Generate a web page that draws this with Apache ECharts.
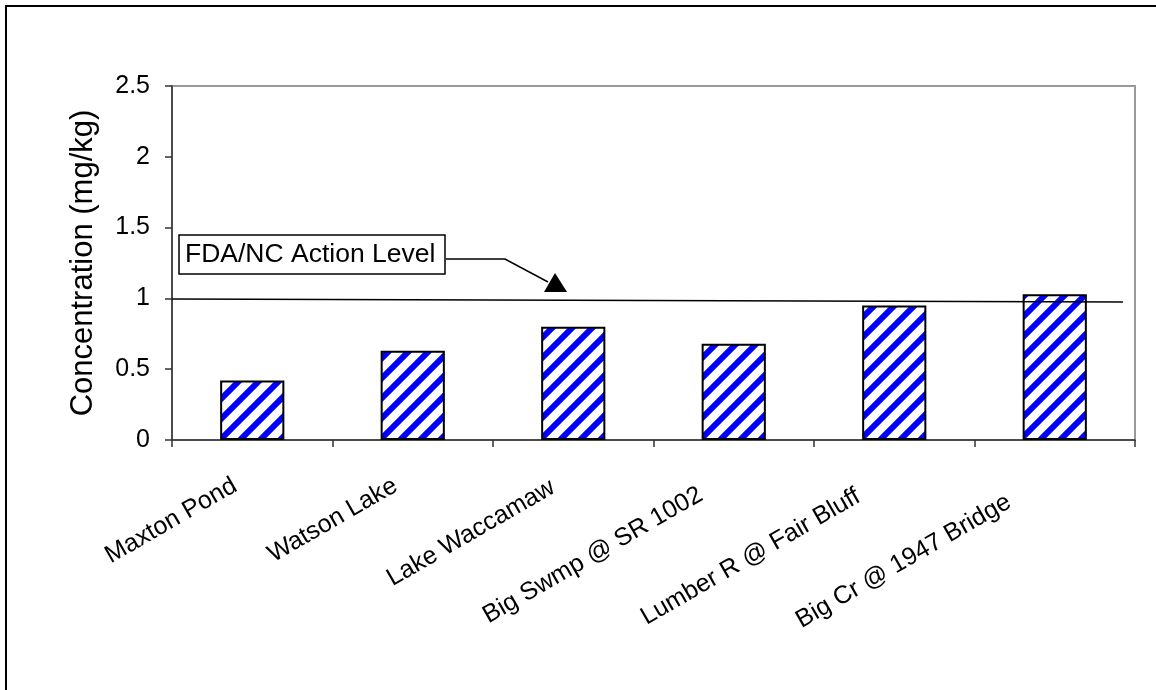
<!DOCTYPE html>
<html>
<head>
<meta charset="utf-8">
<script src="https://cdn.jsdelivr.net/npm/echarts@6/dist/echarts.min.js"></script>
<style>
  html, body { margin: 0; padding: 0; background: #fff; }
  #chart { width: 1156px; height: 690px; }
</style>
</head>
<body>
<div id="chart"></div>
<script>
// Mercury in fish tissue by sampling station
const categories = ['Maxton Pond', 'Watson Lake', 'Lake Waccamaw', 'Big Swmp @ SR 1002', 'Lumber R @ Fair Bluff', 'Big Cr @ 1947 Bridge'];
const concentrations = [0.42, 0.63, 0.80, 0.68, 0.95, 1.03];
const yTicks = [0, 0.5, 1, 1.5, 2, 2.5];
// FDA/NC action level reference line (x in category units, y in mg/kg)
const actionLevelLine = [[0, 0.995], [5.925, 0.975]];
const actionLevelLabel = 'FDA/NC Action Level';
const yAxisTitle = 'Concentration (mg/kg)';

const FONT = 'Liberation Sans, Arial, sans-serif';

// Horizontal nudge of each rotated category label (px, leftwards)
const labelNudge = [23, 23, 27, 44, 48, 61];

// Blue diagonal hatch fill for the bars
function hatchPattern() {
  const size = 20;
  const c = document.createElement('canvas');
  c.width = size; c.height = size;
  const g = c.getContext('2d');
  g.fillStyle = '#ffffff';
  g.fillRect(0, 0, size, size);
  g.strokeStyle = '#0000ff';
  g.lineWidth = 6;
  g.lineCap = 'square';
  [[-6, 6, 6, -6], [0, 20, 20, 0], [14, 26, 26, 14]].forEach(([x1, y1, x2, y2]) => {
    g.beginPath(); g.moveTo(x1, y1); g.lineTo(x2, y2); g.stroke();
  });
  return c;
}

const chart = echarts.init(document.getElementById('chart'), null, { renderer: 'canvas' });

const xData = categories.map((name, i) => ({
  value: name,
  textStyle: { padding: [0, labelNudge[i] / 1.155, labelNudge[i], 0] }
}));

chart.setOption({
  backgroundColor: '#ffffff',
  animation: false,
  grid: {
    left: 172, right: 21, top: 86, bottom: 250,
    show: true, borderColor: '#999999', borderWidth: 2, backgroundColor: 'transparent'
  },
  xAxis: [{
    type: 'category',
    data: xData,
    boundaryGap: true,
    axisLine: { lineStyle: { color: '#333333', width: 1.5 } },
    axisTick: { show: true, length: 7, inside: false, alignWithLabel: false, lineStyle: { color: '#333333', width: 1.5 } },
    axisLabel: {
      rotate: 30, margin: 34, interval: 0,
      color: '#000', fontFamily: FONT, fontSize: 25
    },
    splitLine: { show: false }
  }, {
    type: 'value', min: 0, max: categories.length, show: false
  }],
  yAxis: {
    type: 'value',
    min: yTicks[0], max: yTicks[yTicks.length - 1], interval: 0.5,
    name: yAxisTitle,
    nameLocation: 'middle', nameRotate: 90, nameGap: 73,
    nameTextStyle: { color: '#000', fontFamily: FONT, fontSize: 31 },
    axisLine: { show: true, lineStyle: { color: '#333333', width: 1.5 } },
    axisTick: { show: true, length: 7, lineStyle: { color: '#333333', width: 1.5 } },
    axisLabel: {
      margin: 22, color: '#000', fontFamily: FONT, fontSize: 25,
      formatter: v => String(v)
    },
    splitLine: { show: false }
  },
  series: [{
    type: 'bar',
    xAxisIndex: 0,
    data: concentrations,
    barWidth: '40%',
    itemStyle: {
      color: { image: hatchPattern(), repeat: 'repeat' },
      borderColor: '#000', borderWidth: 2
    },
    z: 2
  }, {
    type: 'line',
    xAxisIndex: 1,
    data: actionLevelLine,
    symbol: 'none',
    lineStyle: { color: '#000', width: 1.5 },
    z: 3
  }],
  graphic: [
    // outer chart frame
    { type: 'rect', shape: { x: 6, y: 6, width: 1300, height: 900 },
      style: { fill: 'none', stroke: '#000', lineWidth: 2 }, silent: true },
    // callout box
    { type: 'rect', shape: { x: 179, y: 235, width: 266, height: 39 },
      style: { fill: '#fff', stroke: '#000', lineWidth: 1.5 }, z: 10 },
    { type: 'text', x: 185, y: 255,
      style: { text: actionLevelLabel, fill: '#000', font: '26.5px ' + FONT, verticalAlign: 'middle' }, z: 11 },
    // leader arrow
    { type: 'polyline', shape: { points: [[446, 259], [505, 259], [548, 282]] },
      style: { stroke: '#000', lineWidth: 1.5, fill: 'none' }, z: 10 },
    { type: 'polygon', shape: { points: [[555, 273], [544, 292], [567, 292]] },
      style: { fill: '#000' }, z: 10 }
  ]
});
</script>
</body>
</html>
